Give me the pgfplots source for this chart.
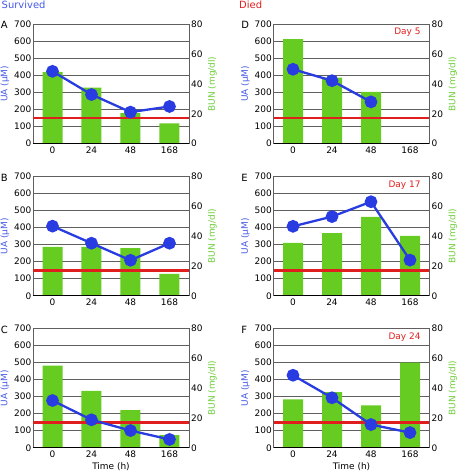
\documentclass[border=0pt]{standalone}
\usepackage{fontspec}
\setmainfont{DejaVu Sans}
\usepackage{pgfplots}
\pgfplotsset{compat=1.18}

\definecolor{uablue}{RGB}{40,60,225}
\definecolor{ualabel}{RGB}{70,90,230}
\definecolor{bungreen}{RGB}{102,204,34}
\definecolor{bunlabel}{RGB}{110,205,60}
\definecolor{refred}{RGB}{225,30,30}
\definecolor{gridgray}{RGB}{95,95,95}

\newcommand{\ninept}{\fontsize{9}{10.5}\selectfont}

\pgfplotsset{
  base/.style={scale only axis, width=156bp, height=119.5bp,
    xmin=-0.5, xmax=3.5, anchor=north west,
    tick style={draw=none},
    /pgf/number format/assume math mode=true,
    tick label style={font=\ninept},
    label style={font=\ninept}},
  gridaxis/.style={base, ymin=0, ymax=700, ytick={0,100,...,700},
    ymajorgrids, grid style={gridgray, line width=0.8bp},
    xtick={0,1,2,3}, xticklabels={0,24,48,168},
    axis x line*=bottom, axis y line*=left,
    x axis line style={black, line width=1bp},
    y axis line style={gridgray, line width=0.8bp},
    yticklabel style={inner sep=1.5bp},
    xticklabel style={inner sep=3.2bp},
    ylabel={UA (μM)},
    ylabel style={ualabel, at={(axis description cs:-0.18,0.5)}, anchor=center},
    xlabel style={black, at={(axis description cs:0.5,-0.155)}, anchor=center}},
  bunaxis/.style={base, ymin=0, ymax=80, ytick={0,20,...,80},
    axis y line*=right, axis x line=none,
    y axis line style={gridgray, line width=0.8bp},
    yticklabel style={inner sep=2bp},
    ylabel={BUN (mg/dl)},
    ylabel style={bunlabel, at={(axis description cs:1.15,0.5)}, anchor=center}},
  uaaxis/.style={base, ymin=0, ymax=700, clip=false,
    axis y line=none, axis x line*=bottom, xtick=\empty, ytick=\empty,
    x axis line style={black, line width=1bp}},
}

% #1 x, #2 y (top-left of axis), #3 letter, #4 BUN coords, #5 UA coords, #6 day label, #7 xlabel
\newcommand{\panel}[7]{%
  \begin{axis}[gridaxis, at={(#1bp,-#2bp)}, xlabel={#7}]
  \end{axis}
  \begin{axis}[bunaxis, at={(#1bp,-#2bp)}]
    \addplot[ybar, bar width=20bp, fill=bungreen, draw=none] coordinates {#4};
  \end{axis}
  \begin{axis}[uaaxis, at={(#1bp,-#2bp)}]
    \addplot[refred, line width=2.1bp] coordinates {(-0.5,148) (3.5,148)};
    \addplot[uablue, line width=2.3bp, mark=*, mark size=5.2bp,
      mark options={solid, fill=uablue, draw=none}] coordinates {#5};
    \node[refred, anchor=east, font=\ninept] at (axis description cs:0.965,0.93) {#6};
  \end{axis}
  \node[anchor=base west, font=\fontsize{10}{12}\selectfont, inner sep=0pt]
    at (#1bp-32.3bp,-#2bp-4.7bp) {#3};
}

\begin{document}
\begin{tikzpicture}
\useasboundingbox (0,0) rectangle (458bp,-471bp);

\node[anchor=north west, inner sep=0pt, text=ualabel, font=\fontsize{10}{12}\selectfont] at (1.5bp,-0.5bp) {Survived};
\node[anchor=north west, inner sep=0pt, text=refred, font=\fontsize{10}{12}\selectfont] at (239bp,-0.5bp) {Died};

\panel{33}{24.2}{A}{(0,48) (1,37.6) (2,20.4) (3,13.6)}{(0,424) (1,288) (2,185) (3,218)}{}{}
\panel{273.5}{24.2}{D}{(0,70) (1,44.2) (2,34.7)}{(0,436) (1,369) (2,245)}{Day 5}{}
\panel{33}{176.3}{B}{(0,32.7) (1,32.7) (2,32) (3,14.6)}{(0,408) (1,308) (2,208) (3,308)}{}{}
\panel{273.5}{176.3}{E}{(0,35.4) (1,41.9) (2,52.8) (3,40.1)}{(0,407) (1,464) (2,551) (3,209)}{Day 17}{}
\panel{33}{328.3}{C}{(0,55) (1,38.1) (2,25.2) (3,8.5)}{(0,277) (1,164) (2,101) (3,49)}{}{Time (h)}
\panel{273.5}{328.3}{F}{(0,32.4) (1,37.3) (2,28.4) (3,57.1)}{(0,425) (1,293) (2,136) (3,89)}{Day 24}{Time (h)}
\end{tikzpicture}
\end{document}
